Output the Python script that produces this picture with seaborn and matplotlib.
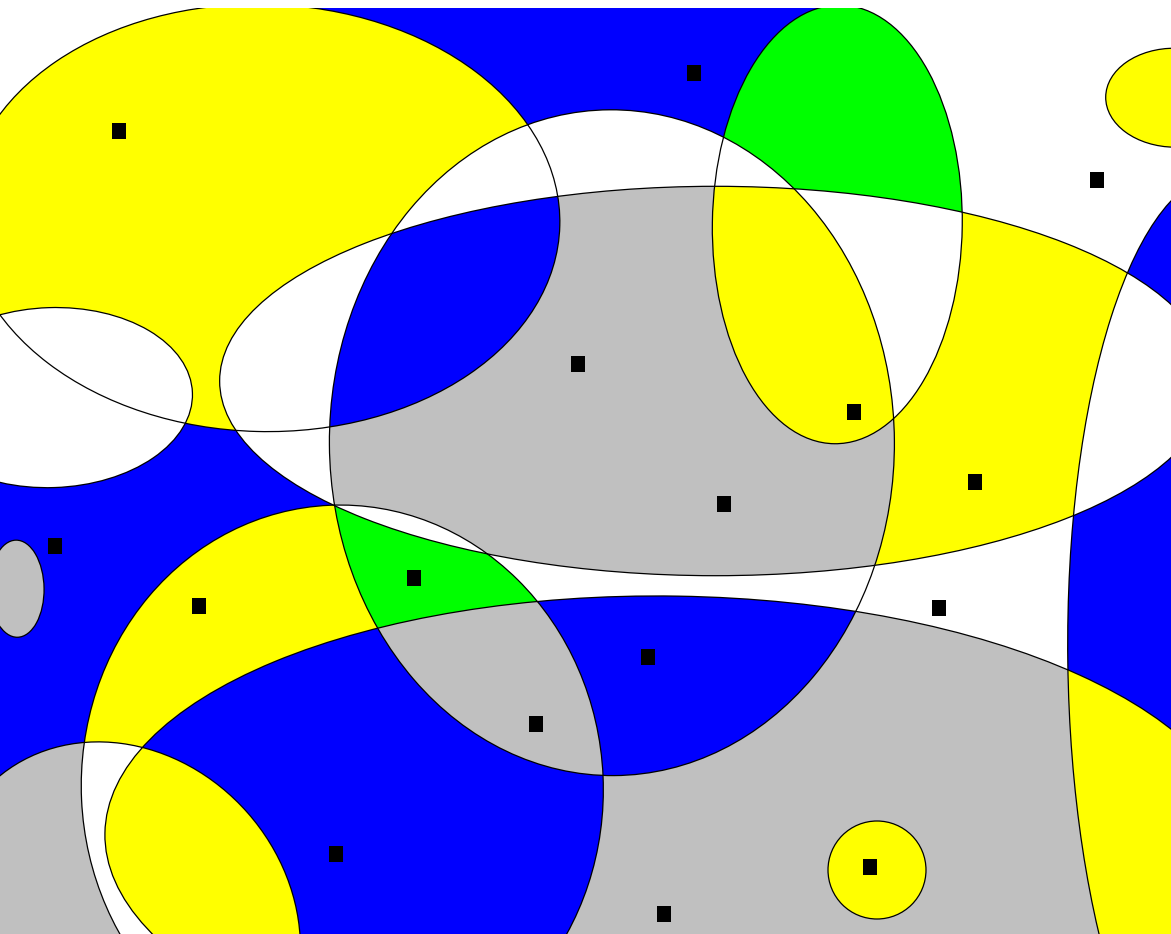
import numpy as np
import matplotlib
matplotlib.use("Agg")
import matplotlib.pyplot as plt
from matplotlib.patches import Ellipse
from matplotlib.markers import MarkerStyle
import seaborn as sns
import pandas as pd

W, H, TOP = 1171, 934, 8

# Ellipses: centre x, centre y, width, height, angle (deg)
ell_names = ["A", "B", "C", "D", "E", "F", "G", "I", "X", "J", "K", "L"]
ell_cx = [262.5, 51.5, 715.3, 611.9, 837.3, 1230.4, 673.9, 342.3, 122.3, 16.7, 1175.0, 877.0]
ell_cy = [217.9, 397.6, 381.0, 442.7, 224.4, 659.9, 842.4, 787.8, 923.1, 588.7, 97.7, 870.0]
ell_w = [594.8, 282.0, 389.4, 565.0, 438.7, 325.2, 1138.1, 565.6, 333.9, 97.1, 138.6, 98.0]
ell_h = [427.3, 180.0, 991.3, 665.8, 249.9, 974.1, 492.6, 522.0, 383.1, 54.7, 99.0, 98.0]
ell_ang = [-178.48, 178.08, 90.0, 179.60, -89.20, 179.29, -179.07, -92.61, 138.63, -90.89, -179.39, 0.0]

# One probe point per coloured face: x, y, colour
probe_x = [118, 695, 380, 790, 1097, 885, 10, 150, 939, 55, 1140, 850, 750, 618, 470, 440, 578, 760, 910, 975, 280, 270,
           1150, 1150, 1120, 1120, 870, 900, 648, 535, 335, 200, 95, 30, 199, 414, 440, 650, 15, 100, 100]
probe_y = [131, 73, 12, 10, 180, 10, 20, 9, 607, 545, 97, 100, 165, 150, 190, 300, 363, 300, 300, 481, 470, 380,
           380, 230, 580, 800, 866, 750, 657, 723, 853, 850, 850, 850, 605, 577, 532, 588, 589, 400, 340]
probe_c = ["Y", "B", "B", "B", "W", "W", "W", "W", "W", "B", "Y", "G", "W", "W", "W", "B", "S", "Y", "W", "Y", "W", "W",
           "W", "B", "B", "Y", "Y", "S", "B", "S", "B", "Y", "W", "S", "Y", "G", "W", "W", "S", "W", "W"]
palette = {"Y": "#FFFF00", "B": "#0000FF", "G": "#00FF00", "S": "#C0C0C0", "W": "#FFFFFF"}

# Black square markers
sq_x = [119, 694, 1097, 578, 724, 414, 854, 975, 939, 55, 199, 648, 536, 664, 336, 870]
sq_y = [131, 73, 180, 364, 504, 578, 412, 482, 608, 546, 606, 657, 724, 914, 854, 867]

ells = list(zip(ell_cx, ell_cy, ell_w, ell_h, ell_ang))


def inside(e, X, Y):
    cx, cy, w, h, a = e
    t = np.radians(a)
    dx, dy = X - cx, Y - cy
    u = np.cos(t) * dx + np.sin(t) * dy
    v = -np.sin(t) * dx + np.cos(t) * dy
    return (u / (w / 2)) ** 2 + (v / (h / 2)) ** 2 <= 1


xs = np.arange(W) + 0.5
ys = np.arange(TOP, H) + 0.5
X, Y = np.meshgrid(xs, ys)
sig = np.zeros(X.shape, dtype=np.int64)
for i, e in enumerate(ells):
    sig |= inside(e, X, Y).astype(np.int64) << i

psig = []
for px, py in zip(probe_x, probe_y):
    s = 0
    for i, e in enumerate(ells):
        s |= int(inside(e, np.array(px + 0.5), np.array(py + 0.5))) << i
    psig.append(s)

rgb = {k: matplotlib.colors.to_rgb(v) for k, v in palette.items()}
img = np.ones(X.shape + (3,))
for s in set(psig):
    idx = [k for k in range(len(psig)) if psig[k] == s]
    mask = sig == s
    if len(idx) == 1:
        img[mask] = rgb[probe_c[idx[0]]]
    else:
        d = np.stack([(X - probe_x[k]) ** 2 + (Y - probe_y[k]) ** 2 for k in idx])
        best = np.argmin(d, axis=0)
        for j, k in enumerate(idx):
            img[mask & (best == j)] = rgb[probe_c[k]]

sns.set_theme(style="white")
fig = plt.figure(figsize=(W / 100, H / 100), dpi=100)
ax = fig.add_axes([0, 0, 1, (H - TOP) / H])
ax.imshow(img, extent=[0, W, H, TOP], interpolation="nearest", aspect="auto")
for e in ells:
    ax.add_patch(Ellipse((e[0], e[1]), e[2], e[3], angle=e[4], fill=False,
                         edgecolor="black", lw=0.9))
df = pd.DataFrame({"x": sq_x, "y": sq_y})
mk = MarkerStyle([(-6.5, -7.5), (6.5, -7.5), (6.5, 7.5), (-6.5, 7.5)])
sns.scatterplot(data=df, x="x", y="y", marker=mk, s=117, color="black",
                linewidth=0, ax=ax, legend=False)
ax.set_xlim(0, W)
ax.set_ylim(H, TOP)
ax.axis("off")
fig.savefig("out.png", dpi=100)
